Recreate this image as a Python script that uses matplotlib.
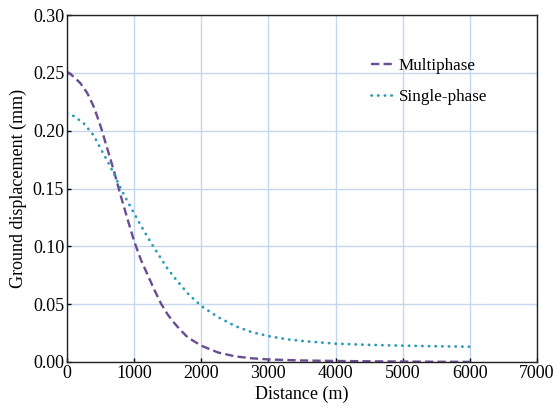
import matplotlib
matplotlib.use("Agg")
import matplotlib.pyplot as plt

distance_multi = [0, 100, 200, 300, 400, 500, 600, 700, 800, 900, 1000, 1100, 1200,
                  1300, 1400, 1500, 1600, 1700, 1800, 2000, 2250, 2500, 2750, 3000,
                  3500, 4000, 4500, 5000, 5500, 6000]
multiphase = [0.251, 0.2467, 0.241, 0.2327, 0.2205, 0.204, 0.1845, 0.165, 0.1438,
              0.1238, 0.1045, 0.0885, 0.0755, 0.0625, 0.0505, 0.041, 0.0335, 0.027,
              0.0212, 0.0141, 0.0082, 0.0049, 0.0032, 0.0022, 0.0013, 0.0009, 0.0006,
              0.0004, 0.0002, 0.0001]

distance_single = [0, 100, 250, 400, 500, 600, 700, 800, 900, 1000, 1100, 1200, 1300,
                   1400, 1500, 1600, 1800, 2000, 2250, 2500, 2750, 3000, 3250, 3500,
                   3750, 4000, 4500, 5000, 5500, 6000]
single_phase = [0.2148, 0.2127, 0.2063, 0.1957, 0.1845, 0.174, 0.1625, 0.150, 0.139,
                0.1285, 0.118, 0.108, 0.0985, 0.0895, 0.0805, 0.073, 0.0592, 0.0484,
                0.0388, 0.0312, 0.0258, 0.0224, 0.0198, 0.0182, 0.0170, 0.0158, 0.0148,
                0.0141, 0.0136, 0.0132]

x_ticks = [0, 1000, 2000, 3000, 4000, 5000, 6000, 7000]
y_ticks = [0.00, 0.05, 0.10, 0.15, 0.20, 0.25, 0.30]

plt.rcParams["font.family"] = ["Liberation Serif", "DejaVu Serif"]

fig = plt.figure(figsize=(5.56, 4.07), dpi=100)
ax = fig.add_axes([0.1205, 0.1106, 0.8453, 0.8525])

ax.plot(distance_multi, multiphase, color="#6a4c93", linewidth=1.7,
        linestyle=(0, (3.5, 1.8)), label="Multiphase")
ax.plot(distance_single, single_phase, color="#2a9bb8", linewidth=2.0,
        linestyle=(0, (0.1, 2.3)), dash_capstyle="round", label="Single-phase")

ax.set_xlim(0, 7000)
ax.set_ylim(0, 0.30)
ax.set_xticks(x_ticks)
ax.set_yticks(y_ticks)
ax.set_yticklabels([f"{v:.2f}" for v in y_ticks])
ax.tick_params(direction="in", length=3, labelsize=13, width=1, pad=2)
ax.grid(True, color="#c6d6ec", linewidth=1)
ax.set_axisbelow(True)
for spine in ax.spines.values():
    spine.set_linewidth(1)
    spine.set_color("#222222")

ax.set_xlabel("Distance (m)", fontsize=13, labelpad=3)
ax.set_ylabel("Ground displacement (mm)", fontsize=13, labelpad=4)

ax.legend(loc="upper left", bbox_to_anchor=(0.615, 0.92), frameon=False, fontsize=12.3,
          handlelength=1.4, handletextpad=0.2, labelspacing=0.85)

fig.savefig("out.png", dpi=100)
